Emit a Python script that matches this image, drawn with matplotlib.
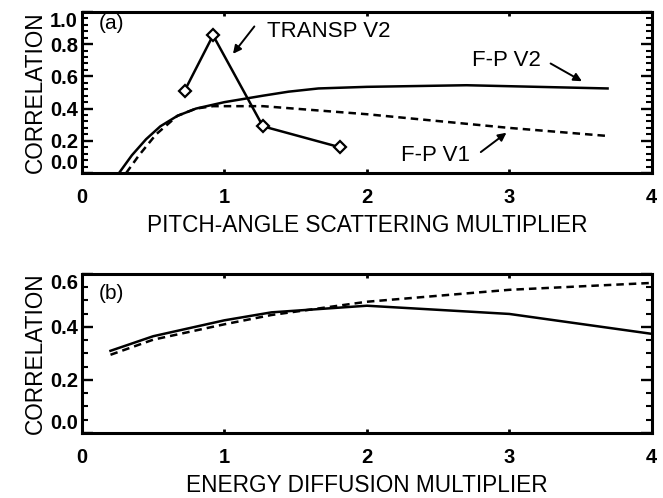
import matplotlib
matplotlib.use("Agg")
import matplotlib.pyplot as plt
from matplotlib.ticker import MultipleLocator, FixedLocator

# ── data ────────────────────────────────────────────────────
pitch_v2_x = [0.26, 0.35, 0.45, 0.55, 0.67, 0.8, 1.0, 1.27, 1.45, 1.66, 2.0, 2.7, 3.69]
pitch_v2_y = [0.0, 0.11, 0.21, 0.29, 0.355, 0.40, 0.44, 0.48, 0.505, 0.525, 0.535, 0.545, 0.525]
pitch_v1_x = [0.31, 0.40, 0.52, 0.67, 0.8, 0.92, 1.27, 2.0, 3.0, 3.69]
pitch_v1_y = [0.0, 0.11, 0.24, 0.355, 0.40, 0.415, 0.415, 0.365, 0.28, 0.23]
transp_x = [0.72, 0.92, 1.27, 1.81]
transp_y = [0.51, 0.855, 0.29, 0.16]

energy_x = [0.2, 0.5, 1.0, 1.33, 2.0, 3.0, 4.0]
energy_v2_y = [0.31, 0.365, 0.425, 0.455, 0.48, 0.449, 0.374]
energy_v1_y = [0.295, 0.352, 0.41, 0.445, 0.495, 0.54, 0.566]

x_ticks = [0, 1, 2, 3, 4]
y_ticks_a = [0.0, 0.2, 0.4, 0.6, 0.8, 1.0]
y_ticks_b = [0.0, 0.2, 0.4, 0.6]

plt.rcParams.update({
    "font.family": "Liberation Sans",
    "axes.linewidth": 2.2,
})

LW = 1.8
LABEL_SIZE = 16.3
TICK_SIZE = 14.5
NOTE_SIZE = 16


def style_axes(ax, yticks, yminor, xlabel):
    ax.set_xlim(0, 4)
    ax.set_ylim(yticks[0], yticks[-1])
    ax.xaxis.set_major_locator(FixedLocator(x_ticks))
    ax.yaxis.set_major_locator(FixedLocator(yticks))
    ax.yaxis.set_minor_locator(MultipleLocator(yminor))
    ax.tick_params(axis="x", which="major", direction="in", top=True,
                   length=3, width=2, pad=11, labelsize=TICK_SIZE)
    ax.tick_params(axis="y", which="major", direction="in", right=True,
                   length=8, width=1.7, pad=3, labelsize=TICK_SIZE)
    ax.tick_params(axis="y", which="minor", direction="in", right=True,
                   length=4.5, width=1.5)
    ax.set_xticklabels([str(t) for t in x_ticks], fontweight="bold")
    labels = ax.set_yticklabels([f"{t:.1f}" for t in yticks], fontweight="bold")
    labels[0].set_va("bottom")
    labels[-1].set_va("top")
    ax.set_xlabel(xlabel, fontsize=LABEL_SIZE, labelpad=5)
    ax.set_ylabel("CORRELATION", fontsize=LABEL_SIZE, labelpad=2)


fig = plt.figure(figsize=(6.63, 4.98), dpi=100)

# ── (a) pitch-angle scattering ──────────────────────────────
ax1 = fig.add_axes([0.1237, 0.6526, 0.8593, 0.3234])
ax1.plot(pitch_v2_x, pitch_v2_y, color="k", lw=LW)
ax1.plot(pitch_v1_x, pitch_v1_y, color="k", lw=LW, dashes=(3, 2))
ax1.plot(transp_x, transp_y, color="k", lw=LW, marker="D", ms=6,
         mfc="white", mec="k", mew=1.6)
style_axes(ax1, y_ticks_a, 0.04, "PITCH-ANGLE SCATTERING MULTIPLIER")

arrow = dict(arrowstyle="-|>", color="k", lw=1.4, mutation_scale=12,
             shrinkA=0, shrinkB=0)
ax1.text(0.12, 0.93, "(a)", fontsize=15, va="center", ha="left")
ax1.text(1.30, 0.88, "TRANSP V2", fontsize=NOTE_SIZE, va="center", ha="left")
ax1.annotate("", xy=(1.06, 0.74), xytext=(1.21, 0.91), arrowprops=arrow)
ax1.text(2.74, 0.70, "F-P V2", fontsize=NOTE_SIZE, va="center", ha="left")
ax1.annotate("", xy=(3.51, 0.57), xytext=(3.29, 0.68), arrowprops=arrow)
ax1.text(2.24, 0.11, "F-P V1", fontsize=NOTE_SIZE, va="center", ha="left")
ax1.annotate("", xy=(2.98, 0.25), xytext=(2.80, 0.13), arrowprops=arrow)

# ── (b) energy diffusion ────────────────────────────────────
ax2 = fig.add_axes([0.1237, 0.1305, 0.8593, 0.3195])
ax2.plot(energy_x, energy_v2_y, color="k", lw=LW)
ax2.plot(energy_x, energy_v1_y, color="k", lw=LW, dashes=(3, 2))
style_axes(ax2, y_ticks_b, 0.05, "ENERGY DIFFUSION MULTIPLIER")
ax2.text(0.12, 0.525, "(b)", fontsize=15, va="center", ha="left")

fig.savefig("out.png", dpi=100, facecolor="white")
